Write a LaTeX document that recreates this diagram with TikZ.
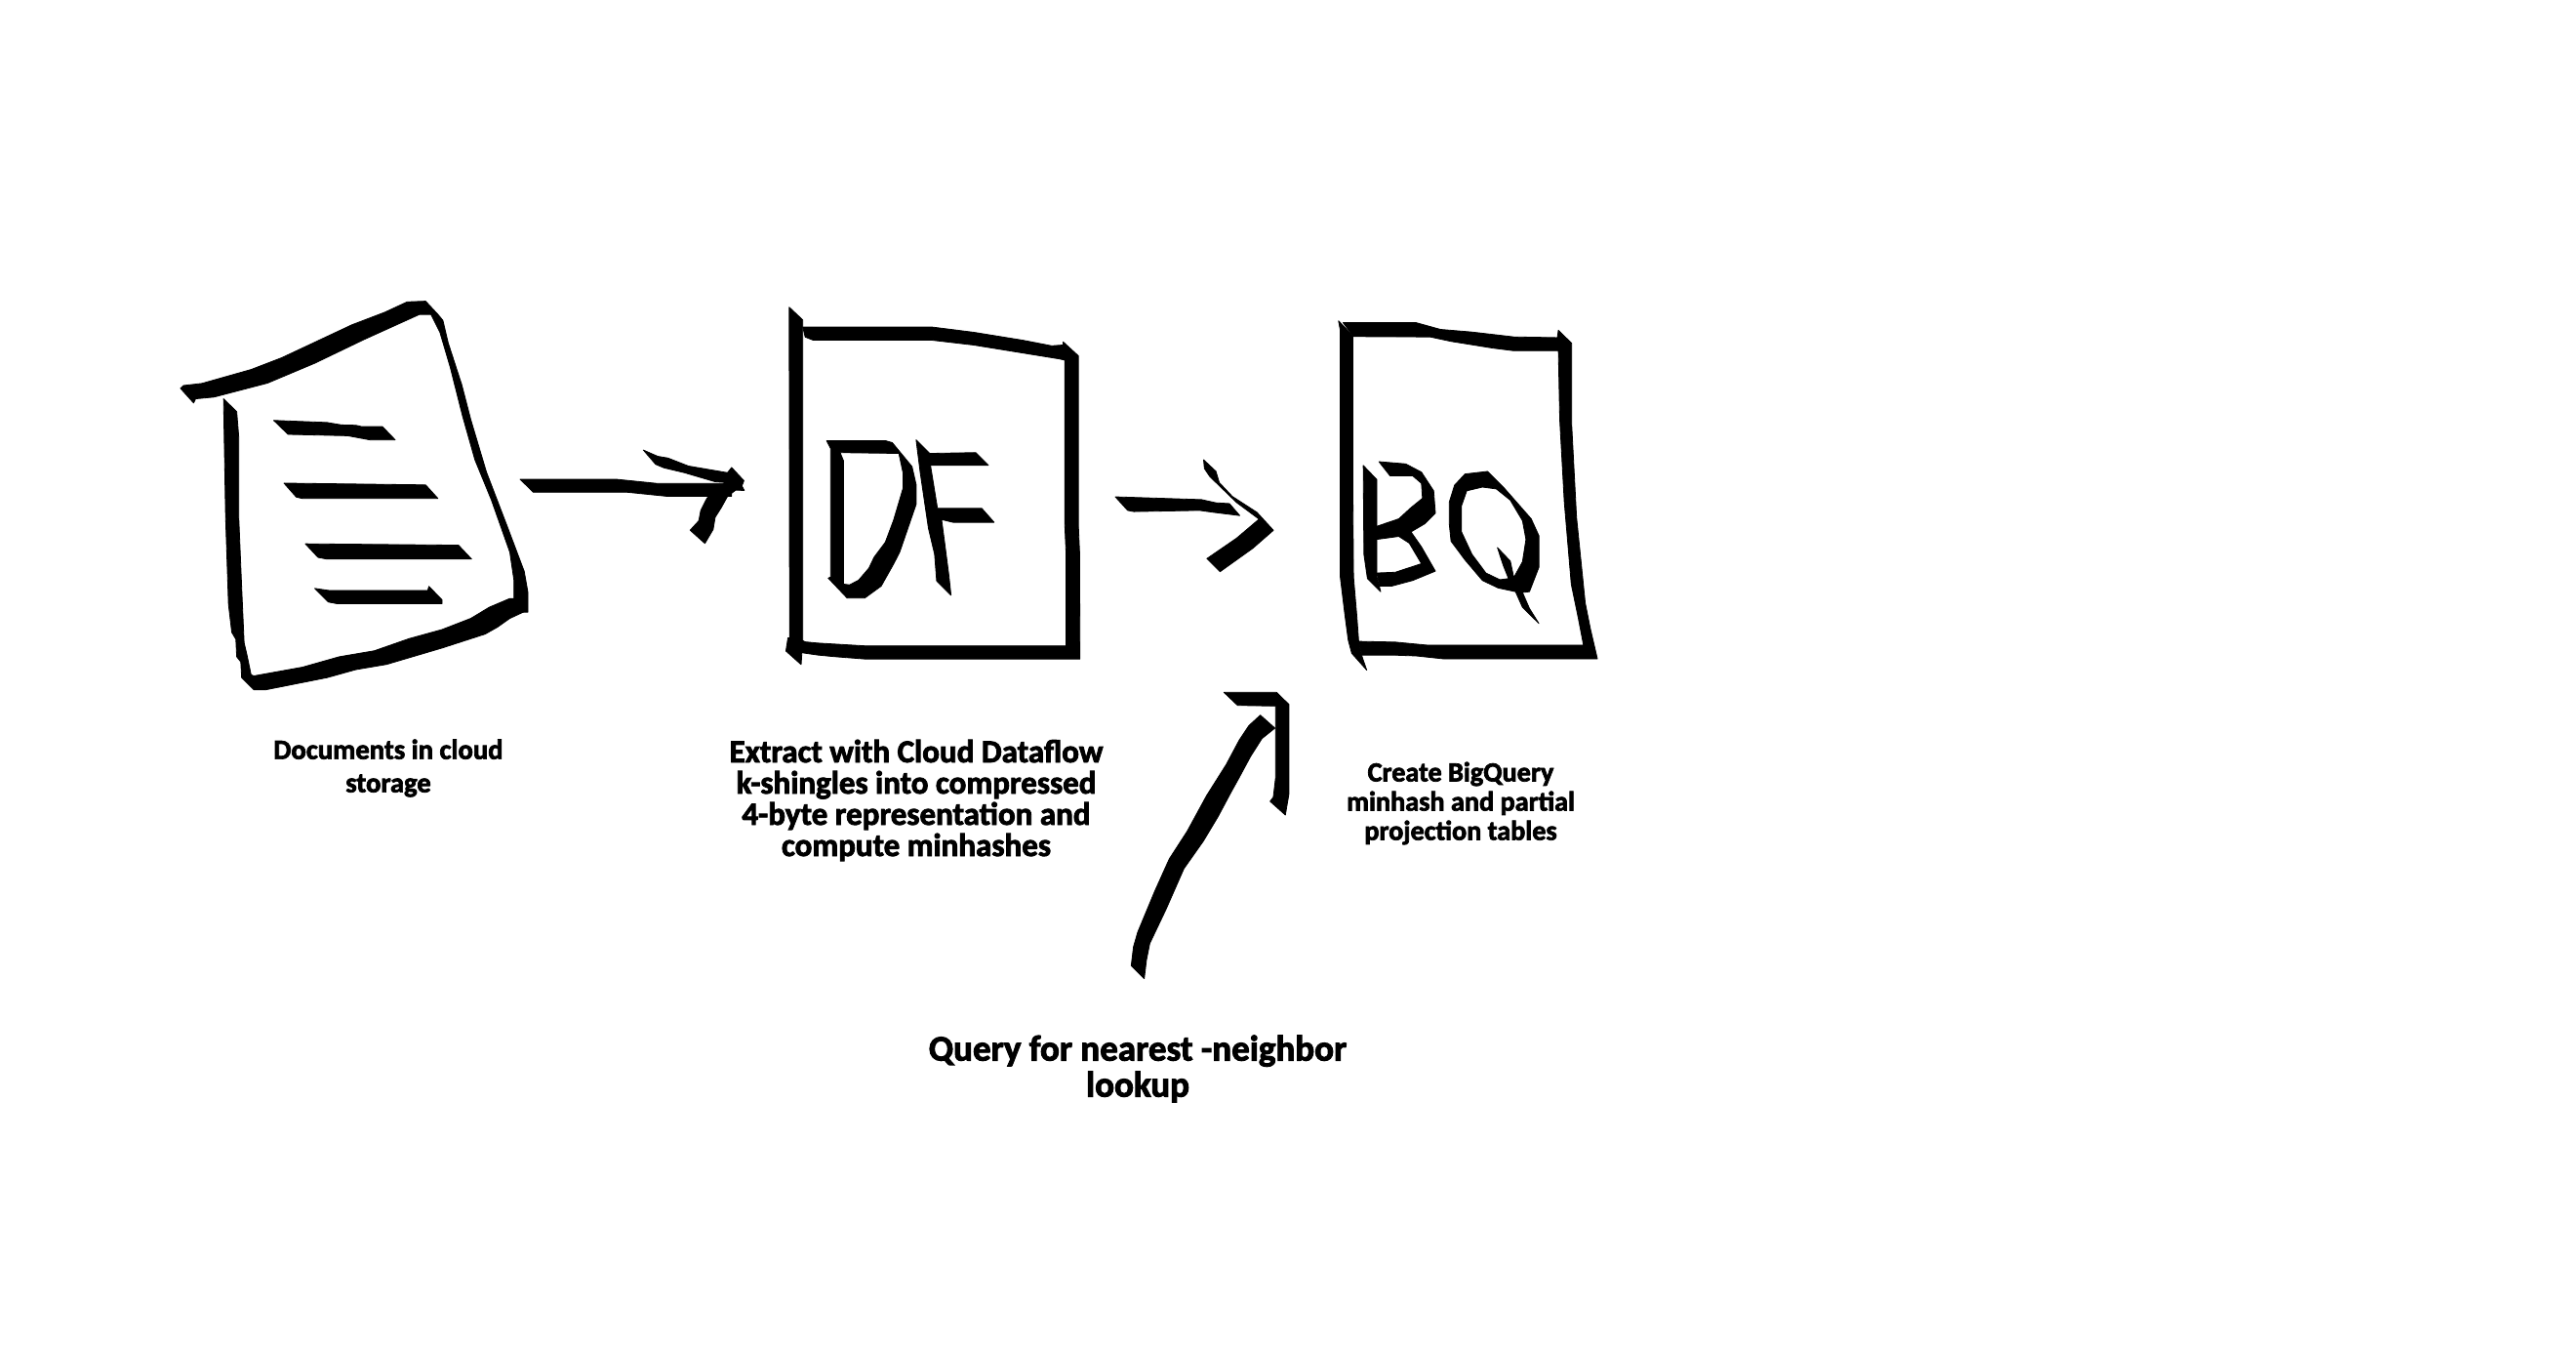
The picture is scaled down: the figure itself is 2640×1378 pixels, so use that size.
\documentclass[tikz,border=0pt]{standalone}
\usepackage{fontspec}
\setmainfont{Carlito}[BoldFeatures={FakeBold=2.5}]

\tikzset{
  ink/.style={fill=black, draw=black, line width=0.4pt, line join=round},
  inkhole/.style={ink, even odd rule},
  caption/.style 2 args={align=center, inner sep=0pt, font=\bfseries\fontsize{#1}{#2}\selectfont}
}

\begin{document}
\begin{tikzpicture}[x=0.5pt, y=-0.5pt]
  \useasboundingbox (0,0) rectangle (2640,1378);

  \begin{scope}[shift={(150,280)}, xscale=0.4209, yscale=0.3571]
    \filldraw[ink] (83,330) -- (90,322) -- (135,316) -- (255,276) -- (330,242) -- (500,148) -- (580,112) -- (635,82) -- (680,80) -- (710,118) -- (722,135) -- (735,200) -- (768,320) -- (790,420) -- (828,570) -- (880,730) -- (920,855) -- (929,915) -- (929,972) -- (918,972) -- (895,935) -- (895,880) -- (885,800) -- (840,650) -- (800,535) -- (770,410) -- (740,270) -- (715,170) -- (693,118) -- (665,118) -- (620,142) -- (530,190) -- (410,258) -- (295,315) -- (165,355) -- (120,360) -- (115,372) -- cycle;
    \filldraw[ink] (188,360) -- (220,397) -- (225,470) -- (225,700) -- (232,900) -- (238,1060) -- (245,1095) -- (255,1152) -- (262,1155) -- (380,1130) -- (470,1100) -- (555,1083) -- (640,1048) -- (720,1022) -- (790,990) -- (835,958) -- (885,933) -- (897,933) -- (918,972) -- (885,990) -- (855,1015) -- (825,1035) -- (720,1075) -- (585,1122) -- (510,1137) -- (440,1160) -- (290,1195) -- (262,1195) -- (232,1160) -- (230,1115) -- (220,1100) -- (218,1050) -- (208,1030) -- (200,950) -- (193,700) -- (190,500) -- cycle;
    \filldraw[ink] (310,422) -- (440,428) -- (475,435) -- (510,436) -- (525,440) -- (575,440) -- (606,478) -- (545,478) -- (490,466) -- (345,462) -- cycle;
    \filldraw[ink] (335,602) -- (680,607) -- (710,646) -- (380,646) -- (365,642) -- cycle;
    \filldraw[ink] (387,776) -- (760,780) -- (792,820) -- (440,820) -- (418,815) -- cycle;
    \filldraw[ink] (410,904) -- (445,910) -- (685,910) -- (688,898) -- (720,937) -- (720,948) -- (465,948) -- (443,943) -- cycle;

    \filldraw[ink] (910,591) -- (1145,591) -- (1245,603) -- (1425,603) -- (1425,640) -- (1270,640) -- (1170,628) -- (942,628) -- cycle;
    \filldraw[ink] (1210,507) -- (1245,525) -- (1270,530) -- (1320,553) -- (1415,572) -- (1425,557) -- (1455,595) -- (1450,610) -- (1456,623) -- (1435,622) -- (1415,640) -- (1400,672) -- (1385,700) -- (1380,735) -- (1360,775) -- (1324,737) -- (1345,710) -- (1350,680) -- (1365,645) -- (1385,622) -- (1410,600) -- (1385,598) -- (1310,572) -- (1260,558) -- (1240,548) -- cycle;
  \end{scope}

  \begin{scope}[shift={(720,280)}, xscale=0.4209, yscale=0.4082]
    \filldraw[ink] (211,85) -- (244,117) -- (244,920) -- (240,982) -- (203,948) -- (208,915) -- (212,915) -- cycle;
    \filldraw[ink] (244,135) -- (560,135) -- (660,148) -- (780,168) -- (850,182) -- (878,180) -- (878,172) -- (915,207) -- (915,630) -- (918,700) -- (919,968) -- (395,968) -- (320,962) -- (280,958) -- (240,952) -- (240,920) -- (250,925) -- (280,928) -- (395,935) -- (885,935) -- (885,700) -- (882,630) -- (882,218) -- (870,215) -- (780,200) -- (660,180) -- (560,168) -- (270,168) -- (250,160) -- cycle;
    \filldraw[inkhole] (302,420) -- (445,420) -- (462,425) -- (510,485) -- (520,530) -- (520,580) -- (500,640) -- (480,700) -- (465,730) -- (435,785) -- (415,800) -- (395,815) -- (352,815) -- (306,765) -- (312,762) -- (312,440) -- cycle
      (343,470) -- (335,450) -- (478,452) -- (488,500) -- (488,540) -- (465,620) -- (445,675) -- (418,712) -- (405,740) -- (380,770) -- (358,782) -- (343,780) -- cycle;
    \filldraw[ink] (520,418) -- (553,452) -- (665,450) -- (696,482) -- (555,482) -- (572,590) -- (680,590) -- (710,625) -- (610,625) -- (582,618) -- (590,680) -- (600,760) -- (605,808) -- (570,772) -- (565,705) -- (550,640) -- (530,500) -- cycle;

    \filldraw[ink] (1005,561) -- (1215,568) -- (1250,576) -- (1283,578) -- (1308,608) -- (1245,600) -- (1210,595) -- (1050,598) -- (1035,595) -- cycle;
    \filldraw[ink] (1220,468) -- (1250,497) -- (1258,525) -- (1290,560) -- (1350,600) -- (1390,645) -- (1340,690) -- (1260,749) -- (1228,716) -- (1300,665) -- (1355,617) -- (1300,575) -- (1265,540) -- (1235,510) -- (1222,490) -- cycle;
  \end{scope}

  \begin{scope}[shift={(1130,300)}, xscale=0.3571, yscale=0.3827]
    \filldraw[ink] (677,75) -- (718,115) -- (718,500) -- (720,760) -- (730,870) -- (735,935) -- (745,975) -- (758,1010) -- (715,965) -- (705,930) -- (695,860) -- (682,760) -- (682,100) -- cycle;
    \filldraw[ink] (690,80) -- (900,80) -- (970,98) -- (1060,105) -- (1180,118) -- (1305,120) -- (1308,100) -- (1346,135) -- (1346,350) -- (1360,600) -- (1385,830) -- (1400,900) -- (1420,980) -- (980,980) -- (900,972) -- (840,970) -- (745,970) -- (735,933) -- (840,935) -- (930,943) -- (1380,943) -- (1365,870) -- (1345,780) -- (1325,560) -- (1312,340) -- (1308,155) -- (1180,155) -- (1120,148) -- (1000,130) -- (940,118) -- (720,117) -- cycle;
    \filldraw[ink] (748,462) -- (787,500) -- (787,760) -- (798,800) -- (760,765) -- (750,700) -- cycle;
    \filldraw[ink] (793,452) -- (870,458) -- (915,480) -- (950,530) -- (955,590) -- (925,618) -- (885,640) -- (915,680) -- (955,745) -- (890,770) -- (830,785) -- (795,785) -- (787,750) -- (840,748) -- (915,725) -- (880,670) -- (850,652) -- (787,660) -- (787,625) -- (850,605) -- (885,575) -- (918,550) -- (915,510) -- (890,490) -- (825,490) -- cycle;
    \filldraw[inkhole] (1040,485) -- (1105,478) -- (1150,520) -- (1230,605) -- (1252,650) -- (1252,735) -- (1225,800) -- (1205,802) -- (1225,845) -- (1252,885) -- (1205,842) -- (1185,800) -- (1135,790) -- (1090,770) -- (1040,715) -- (1000,665) -- (995,620) -- (995,560) -- (1010,515) -- cycle
      (1045,530) -- (1030,570) -- (1030,640) -- (1060,700) -- (1100,750) -- (1140,768) -- (1165,765) -- (1150,730) -- (1133,682) -- (1170,718) -- (1180,762) -- (1205,720) -- (1215,660) -- (1205,610) -- (1170,555) -- (1130,525) -- (1090,520) -- cycle;
  \end{scope}

  \begin{scope}[shift={(920,680)}, scale=0.3333]
    \filldraw[ink] (718,928) -- (725,870) -- (738,825) -- (790,700) -- (835,600) -- (890,515) -- (950,405) -- (1010,310) -- (1050,235) -- (1080,190) -- (1115,158) -- (1160,198) -- (1120,230) -- (1085,285) -- (1050,350) -- (1025,395) -- (985,470) -- (940,545) -- (880,630) -- (825,755) -- (775,860) -- (765,910) -- (758,968) -- cycle;
    \filldraw[ink] (1003,88) -- (1165,88) -- (1203,125) -- (1203,400) -- (1192,465) -- (1145,423) -- (1155,410) -- (1162,350) -- (1162,130) -- (1045,128) -- cycle;
  \end{scope}

  \node[caption={14.3}{17}] (storagelabel) at (398,787) {Documents in cloud\\storage};
  \node[caption={16.5}{16}] (dataflowlabel) at (939,820) {Extract with Cloud Dataflow\\k-shingles into compressed\\4-byte representation and\\compute minhashes};
  \node[caption={14.1}{15}] (bigquerylabel) at (1497,823) {Create BigQuery\\minhash and partial\\projection tables};
  \node[caption={18.5}{18.5}] (querylabel) at (1166,1095) {Query for nearest -neighbor\\lookup};
\end{tikzpicture}
\end{document}
